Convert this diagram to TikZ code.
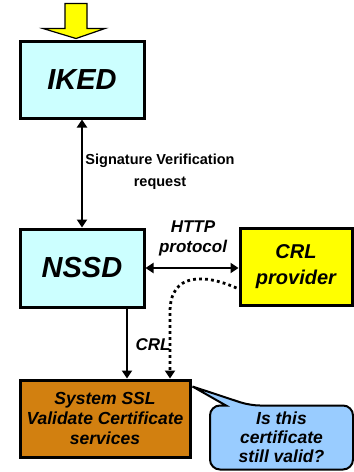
\documentclass[tikz,border=0pt]{standalone}
\usepackage{fontspec}
\setmainfont{Liberation Sans}
\usetikzlibrary{arrows.meta,calc,backgrounds}
\definecolor{boxcyan}{RGB}{204,255,255}
\definecolor{crlyellow}{RGB}{255,255,0}
\definecolor{sslorange}{RGB}{210,128,16}
\definecolor{calloutblue}{RGB}{153,204,255}
\definecolor{arrowyellow}{RGB}{255,255,0}
\tikzset{
  x=1pt, y=-1pt,
  boxstyle/.style={draw=black, line width=3pt, inner sep=0pt, align=center},
  bigtext/.style={font=\fontsize{29}{34}\selectfont\bfseries\itshape},
  arr/.style={line width=2.5pt, -{Triangle[length=8pt,width=10pt]}},
  dblarr/.style={line width=2.5pt, {Triangle[length=8pt,width=10pt]}-{Triangle[length=8pt,width=10pt]}},
  dotarr/.style={line width=2.8pt, dash pattern=on 2.8pt off 3.2pt, -{Triangle[length=8pt,width=10pt]}},
  lbl/.style={inner sep=0pt, align=center},
  bubblestyle/.style={draw=black, line width=2pt, fill=calloutblue, line join=miter}
}
\begin{document}
\begin{tikzpicture}
\useasboundingbox (0,0) rectangle (354,472);
\node[boxstyle, fill=boxcyan, minimum width=124pt, minimum height=77pt, bigtext] (iked) at (82,79.5) {IKED};
\node[boxstyle, fill=boxcyan, minimum width=124pt, minimum height=78pt, bigtext] (nssd) at (82,268) {NSSD};
\node[boxstyle, fill=crlyellow, minimum width=112pt, minimum height=77pt, font=\fontsize{20}{26}\selectfont\bfseries\itshape] (crl) at (296,267) {CRL\\provider};
\node[boxstyle, fill=sslorange, minimum width=170pt, minimum height=77pt, font=\fontsize{17.5}{20}\selectfont\bfseries\itshape] (ssl) at (105,418.5) {System SSL\\Validate Certificate\\services};
\node[inner sep=0pt, outer sep=0pt, minimum width=143pt, minimum height=64pt, align=center, font=\fontsize{17.5}{19}\selectfont\bfseries\itshape] (bubble) at (281.5,437.5) {Is this\\certificate\\still valid?};
\coordinate (tip) at ([shift={(1,8)}]ssl.north east);
\begin{scope}[on background layer]
\draw[bubblestyle] (bubble.east) [rounded corners=10pt] -- (bubble.north east) -- ([xshift=40pt]bubble.north west) [sharp corners] -- (tip) -- ([xshift=16pt]bubble.north west) [rounded corners=10pt] -- (bubble.north west) -- (bubble.south west) -- (bubble.south east) -- cycle;
\end{scope}
% yellow input arrow
\draw[fill=arrowyellow, draw=black, line width=1.2pt]
  ([shift={(-17,-36)}]iked.north) -- ([shift={(5,-36)}]iked.north) -- ([shift={(5,-11)}]iked.north)
  -- ([shift={(23,-11)}]iked.north) -- ([shift={(-6,-1)}]iked.north) -- ([shift={(-39,-11)}]iked.north)
  -- ([shift={(-17,-11)}]iked.north) -- cycle;
% connectors
\draw[dblarr] (iked.south) -- (nssd.north);
\node[lbl, font=\fontsize{14.5}{22}\selectfont\bfseries] (sigl) at (160,172) {Signature Verification\\request};
\draw[dblarr] (nssd.east) -- (nssd.east -| crl.west);
\node[lbl, font=\fontsize{17}{20}\selectfont\bfseries\itshape] (httpl) at (193,238) {HTTP\\protocol};
\draw[arr] ([xshift=45pt]nssd.south) -- ([xshift=45pt]nssd.south |- ssl.north);
\node[lbl, font=\fontsize{17}{20}\selectfont\bfseries\itshape] (crll) at (153,345) {CRL};
\coordinate (dotstart) at ([yshift=-21pt]crl.west);
\draw[dotarr] ([xshift=-2pt]dotstart) .. controls (205,274) and (170,272) .. (170,312) -- ([xshift=65pt]ssl.north);
\end{tikzpicture}
\end{document}
